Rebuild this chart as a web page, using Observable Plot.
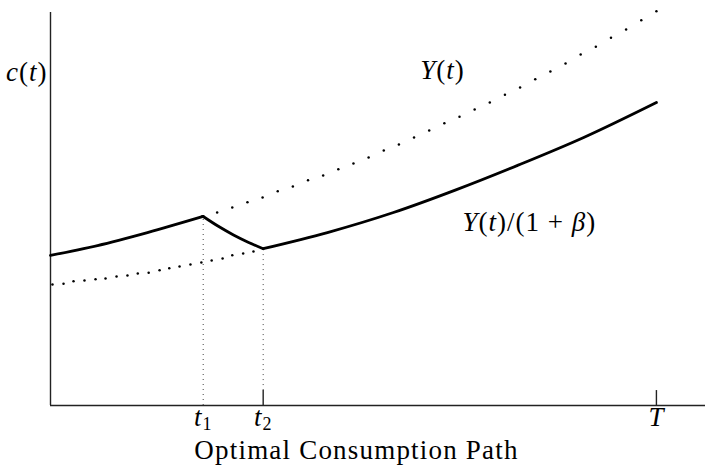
<!DOCTYPE html>
<html>
<head>
<meta charset="utf-8">
<script src="https://cdn.jsdelivr.net/npm/d3@7"></script>
<script src="https://cdn.jsdelivr.net/npm/@observablehq/plot@0.6"></script>
<style>
  body { margin: 0; background: #fff; }
  svg { display: block; }
  svg text { font-family: "Liberation Serif", "DejaVu Serif", "Times New Roman", Times, serif !important; }
</style>
</head>
<body>
<div id="chart"></div>
<script>
// Time axis: 0 at origin, T = 100
const tickNames = ["t1", "t2", "T"];
const tickT = [25.2, 35.1, 100];
const axisEndT = 108.1;
const tickLen = 3.8;

// Income Y(t) – dotted samples (from t1 to T)
const incomeT = [25, 27.5, 30, 32.5, 35, 37.5, 40, 42.5, 45, 47.5, 50, 52.5, 55, 57.5, 60, 62.5,
                 65, 67.5, 70, 72.5, 75, 77.5, 80, 82.5, 85, 87.5, 90, 92.5, 95, 97.5, 100];
const incomeC = [48.1, 49.1, 50.4, 51.7, 52.9, 54.5, 55.7, 57.3, 58.5, 60.1, 61.6, 63.1, 64.9, 66.4, 68.2, 70.0,
                 71.8, 73.5, 75.3, 77.1, 79.1, 80.9, 83.0, 85.0, 87.0, 89.3, 91.3, 93.6, 95.7, 98.0, 100.3];

// Y(t)/(1+β) – dotted samples (from 0 to t2)
const lowT = [0.33, 2.15, 3.8, 5.61, 7.43, 9.08, 10.9, 12.7, 14.4, 16.2, 18.0, 19.6, 21.3, 23.1, 24.9, 26.6, 28.4, 30.0, 31.8, 33.5];
const lowC = [30.8, 31.0, 31.6, 31.8, 32.1, 32.3, 32.8, 33.1, 33.6, 33.8, 34.4, 34.9, 35.4, 35.9, 36.4, 36.9, 37.4, 38.2, 38.7, 39.2];

// Optimal consumption path c(t) – three pieces
const pathT   = [0, 7.76, 16.0, 25.2,   25.2, 27.7, 30.2, 32.7, 35.1,   35.1, 45.7, 56.6, 66.8, 77.1, 88.0, 100];
const pathC   = [38.2, 40.7, 44.0, 48.1, 48.1, 45.6, 43.4, 41.5, 39.9,  39.9, 44.0, 49.1, 54.8, 61.1, 68.2, 77.1];
const pathSeg = [1, 1, 1, 1,            2, 2, 2, 2, 2,                  3, 3, 3, 3, 3, 3, 3];

// Annotations (data coordinates)
const labelTexts = ["c(t)", "Y(t)", "Y(t)/(1+β)"];
const labelT = [0, 64.7, 68.0];
const labelC = [84.8, 85.3, 46.6];
const captionText = "Optimal Consumption Path";
const captionT = 50.5;

const income = incomeT.map((t, i) => ({t, c: incomeC[i]}));
const low = lowT.map((t, i) => ({t, c: lowC[i]}));
const path = pathT.map((t, i) => ({t, c: pathC[i], seg: pathSeg[i]}));
const ticks = tickNames.map((name, i) => ({name, t: tickT[i]}));
const labels = labelTexts.map((text, i) => ({text, t: labelT[i], c: labelC[i]}));
const cAt = t => path.find(d => d.t === t).c;

const serif = "'Liberation Serif', 'DejaVu Serif', serif";

const plot = Plot.plot({
  width: 713,
  height: 470,
  marginLeft: 50,
  marginRight: 8,
  marginTop: 12,
  marginBottom: 65,
  x: {domain: [0, axisEndT], axis: null},
  y: {domain: [0, 100], axis: null},
  style: {fontFamily: serif, fontSize: "27px", background: "white", color: "black", overflow: "visible"},
  marks: [
    // axes
    Plot.ruleY([0], {x1: 0, x2: axisEndT, stroke: "#222", strokeWidth: 1.4}),
    Plot.ruleX([0], {y1: 0, y2: 100, stroke: "#222", strokeWidth: 1.4}),
    // dotted verticals at t1 and t2
    Plot.ruleX([tickT[0]], {y1: 0, y2: cAt(tickT[0]), stroke: "#444", strokeWidth: 1, strokeDasharray: "1,4"}),
    Plot.ruleX([tickT[1]], {y1: tickLen, y2: cAt(tickT[1]), stroke: "#444", strokeWidth: 1, strokeDasharray: "1,4"}),
    // solid ticks at t2 and T
    Plot.ruleX([tickT[1], tickT[2]], {y1: 0, y2: tickLen, stroke: "#222", strokeWidth: 1.4}),
    // optimal path
    Plot.line(path, {x: "t", y: "c", z: "seg", curve: "monotone-x", stroke: "black", strokeWidth: 2.8, strokeLinejoin: "round"}),
    // dotted income curves
    Plot.dot(income, {x: "t", y: "c", r: 1.25, fill: "black", stroke: "none"}),
    Plot.dot(low, {x: "t", y: "c", r: 1.25, fill: "black", stroke: "none"}),
    // tick labels
    Plot.text(ticks, {x: "t", y: 0, text: "name", dy: 12, lineAnchor: "middle", textAnchor: "middle", fill: "black"}),
    // caption
    Plot.text([captionText], {x: captionT, y: 0, text: d => d, dy: 45, lineAnchor: "middle", textAnchor: "middle", fill: "black"}),
    // curve labels
    Plot.text(labels.slice(0, 1), {x: "t", y: "c", text: "text", textAnchor: "end", dx: -3, lineAnchor: "middle", fill: "black"}),
    Plot.text(labels.slice(1, 2), {x: "t", y: "c", text: "text", textAnchor: "middle", lineAnchor: "middle", fill: "black"}),
    Plot.text(labels.slice(2, 3), {x: "t", y: "c", text: "text", textAnchor: "start", lineAnchor: "middle", fill: "black"})
  ]
});

// typeset math-like labels with italic variables
const it = s => `<tspan font-style="italic">${s}</tspan>`;
const rich = {
  "c(t)": `${it("c")}(${it("t")})`,
  "Y(t)": `${it("Y")}(${it("t")})`,
  "Y(t)/(1+β)": `${it("Y")}(${it("t")})/(1 + ${it("β")})`,
  "t1": `${it("t")}<tspan font-size="18" dy="4">1</tspan>`,
  "t2": `${it("t")}<tspan font-size="18" dy="4">2</tspan>`,
  "T": it("T")
};
d3.select(plot).selectAll("text").each(function () {
  const s = this.textContent;
  this.style.fontFamily = serif;
  if (rich[s]) {
    this.innerHTML = rich[s];
    this.setAttribute("letter-spacing", "1");
  } else if (s === captionText) {
    this.setAttribute("letter-spacing", "1.2");
  }
});

document.getElementById("chart").appendChild(plot);
</script>
</body>
</html>
